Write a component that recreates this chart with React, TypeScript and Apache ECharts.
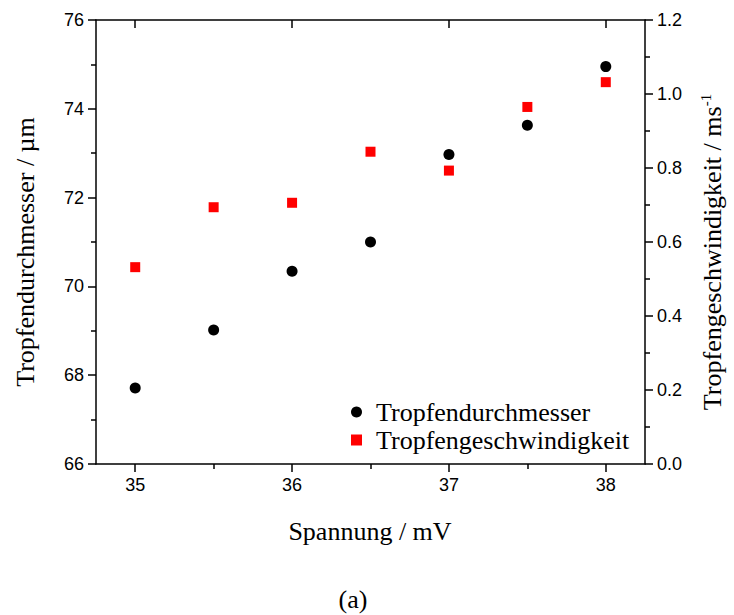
import React, { useEffect, useRef } from "react";
import * as echarts from "echarts";

const voltage = [35, 35.5, 36, 36.5, 37, 37.5, 38];
const diameter = [67.71, 69.02, 70.34, 71.0, 72.97, 73.63, 74.95];
const velocity = [0.532, 0.694, 0.706, 0.844, 0.793, 0.965, 1.032];
const xMajorTicks = [35, 36, 37, 38];
const xMinorTicks = [35.5, 36.5, 37.5];

const SERIF = "'Liberation Serif', 'Times New Roman', serif";
const SANS = "'Liberation Sans', Arial, sans-serif";
const NAME_SIZE = 26;

export default function App() {
  const ref = useRef<HTMLDivElement>(null);
  useEffect(() => {
    if (!ref.current) return;
    const chart = echarts.init(ref.current, null, { renderer: "svg" });
    const lineStyle = { color: "#000", width: 1.5 };
    const baseX = {
      type: "value",
      min: 34.75,
      max: 38.25,
      splitLine: { show: false },
    };
    chart.setOption({
      animation: false,
      grid: { left: 96, right: 89, top: 20, bottom: 151 },
      graphic: [
        {
          type: "text",
          x: 370,
          y: 531,
          style: {
            text: "Spannung / mV",
            font: `${NAME_SIZE}px ${SERIF}`,
            fill: "#000",
            align: "center",
            verticalAlign: "middle",
          },
        },
        {
          type: "text",
          x: 25,
          y: 252,
          rotation: Math.PI / 2,
          style: {
            text: "Tropfendurchmesser / µm",
            font: `${NAME_SIZE}px ${SERIF}`,
            fill: "#000",
            align: "center",
            verticalAlign: "middle",
          },
        },
        {
          type: "text",
          x: 712,
          y: 252,
          rotation: Math.PI / 2,
          style: {
            text: "Tropfengeschwindigkeit / ms{sup|-1}",
            font: `${NAME_SIZE}px ${SERIF}`,
            fill: "#000",
            align: "center",
            verticalAlign: "middle",
            rich: {
              sup: {
                fontFamily: SERIF,
                fontSize: 15,
                fill: "#000",
                color: "#000",
                verticalAlign: "top",
                padding: [0, 0, 12, 0],
              },
            },
          },
        },
        {
          type: "text",
          x: 353,
          y: 599,
          style: {
            text: "(a)",
            font: `${NAME_SIZE}px ${SERIF}`,
            fill: "#000",
            align: "center",
            verticalAlign: "middle",
          },
        },
      ],
      legend: {
        left: 346,
        top: 394,
        orient: "vertical",
        itemGap: 2,
        itemWidth: 11,
        itemHeight: 11,
        textStyle: {
          fontFamily: SERIF,
          fontSize: NAME_SIZE,
          color: "#000",
          padding: [0, 0, 0, 9],
        },
        data: [
          { name: "Tropfendurchmesser", icon: "circle" },
          { name: "Tropfengeschwindigkeit", icon: "rect" },
        ],
      },
      xAxis: [
        {
          ...baseX,
          position: "bottom",
          axisLine: { lineStyle },
          axisTick: { customValues: xMajorTicks, length: 8, lineStyle },
          axisLabel: {
            customValues: xMajorTicks,
            fontFamily: SANS,
            fontSize: 18,
            color: "#000",
            margin: 12,
          },
        },
        {
          ...baseX,
          position: "bottom",
          axisLine: { show: false },
          axisTick: { customValues: xMinorTicks, length: 5, lineStyle },
          axisLabel: { show: false },
        },
        {
          ...baseX,
          position: "top",
          axisLine: { lineStyle },
          axisTick: { customValues: xMajorTicks, length: 8, inside: true, lineStyle },
          axisLabel: { show: false },
        },
      ],
      yAxis: [
        {
          type: "value",
          min: 66,
          max: 76,
          interval: 2,
          position: "left",
          axisLine: { show: true, lineStyle },
          axisTick: { show: true, length: 8, lineStyle },
          minorTick: { show: true, splitNumber: 2, length: 5, lineStyle },
          axisLabel: { fontFamily: SANS, fontSize: 18, color: "#000", margin: 12 },
          splitLine: { show: false },
        },
        {
          type: "value",
          min: 0,
          max: 1.2,
          interval: 0.2,
          position: "right",
          axisLine: { show: true, lineStyle },
          axisTick: { show: true, length: 8, lineStyle },
          minorTick: { show: true, splitNumber: 2, length: 5, lineStyle },
          axisLabel: {
            fontFamily: SANS,
            fontSize: 18,
            color: "#000",
            margin: 12,
            formatter: (v: number) => v.toFixed(1),
          },
          splitLine: { show: false },
        },
      ],
      series: [
        {
          name: "Tropfendurchmesser",
          type: "scatter",
          xAxisIndex: 0,
          yAxisIndex: 0,
          symbol: "circle",
          symbolSize: 11,
          itemStyle: { color: "#000", opacity: 1 },
          data: voltage.map((v, i) => [v, diameter[i]]),
        },
        {
          name: "Tropfengeschwindigkeit",
          type: "scatter",
          xAxisIndex: 0,
          yAxisIndex: 1,
          symbol: "rect",
          symbolSize: 10,
          itemStyle: { color: "#ff0000", opacity: 1 },
          data: voltage.map((v, i) => [v, velocity[i]]),
        },
      ],
    });
    return () => chart.dispose();
  }, []);
  return <div ref={ref} style={{ width: 734, height: 615, position: "absolute", left: 0, top: 0 }} />;
}
